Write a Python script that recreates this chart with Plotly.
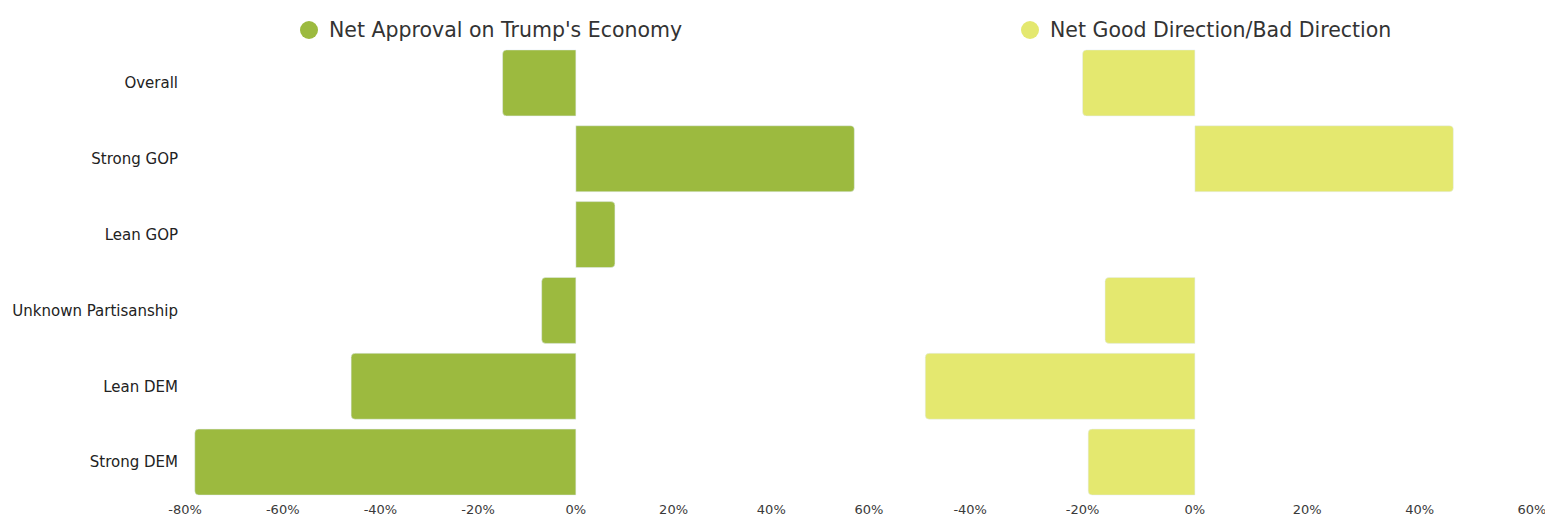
import plotly.graph_objects as go
from plotly.subplots import make_subplots

categories = ["Overall", "Strong GOP", "Lean GOP", "Unknown Partisanship", "Lean DEM", "Strong DEM"]
net_approval_economy = [-15, 57, 8, -7, -46, -78]
net_good_direction = [-20, 46, None, -16, -48, -19]
tick_vals_left = [-80, -60, -40, -20, 0, 20, 40, 60]
tick_vals_right = [-40, -20, 0, 20, 40, 60]
series_names = ["Net Approval on Trump's Economy", "Net Good Direction/Bad Direction"]

GREEN = "#9cba3f"
YELLOW = "#e4e86f"
OFF = 8  # page body margin
W, H = 1553 - OFF, 521 - OFF
MT, MB = 45 - OFF, 21


def px(x):
    return (x - OFF) / W


fig = make_subplots(rows=1, cols=2, horizontal_spacing=0.02)

fig.add_trace(go.Bar(y=categories, x=net_approval_economy, orientation="h",
                     marker=dict(color=GREEN, cornerradius=4), name=series_names[0],
                     showlegend=False), row=1, col=1)
fig.add_trace(go.Bar(y=categories, x=net_good_direction, orientation="h",
                     marker=dict(color=YELLOW, cornerradius=4), name=series_names[1],
                     showlegend=False), row=1, col=2)

FONT = "DejaVu Sans"
tickfont = dict(family=FONT, size=13, color="#3a3a3a")
fig.update_xaxes(row=1, col=1, range=[-80, 60], tickvals=tick_vals_left,
                 ticktext=[f"{v}%" for v in tick_vals_left],
                 domain=[px(185), px(869)])
fig.update_xaxes(row=1, col=2, range=[-50, 60], tickvals=tick_vals_right,
                 ticktext=[f"{v}%" for v in tick_vals_right],
                 domain=[px(914), px(1532)])
fig.update_xaxes(showgrid=False, zeroline=False, showline=False, ticks="",
                 tickfont=tickfont, automargin=False, fixedrange=True)
fig.update_yaxes(categoryorder="array", categoryarray=categories[::-1],
                 showgrid=False, zeroline=False, showline=False, ticks="",
                 automargin=False)
fig.update_yaxes(row=1, col=1, tickfont=dict(family=FONT, size=15, color="#222"),
                 ticklabelstandoff=6)
fig.update_yaxes(row=1, col=2, showticklabels=False)

plot_h = H - MT - MB
ly = 1 + (MT - (30 - OFF)) / plot_h
legend_items = [(309, 327, GREEN, series_names[0]), (1030, 1048, YELLOW, series_names[1])]
for cx, tx, col, name in legend_items:
    fig.add_shape(type="circle", xref="paper", yref="paper",
                  xsizemode="pixel", ysizemode="pixel",
                  xanchor=px(cx), yanchor=ly, x0=-9, x1=9, y0=-9, y1=9,
                  fillcolor=col, line=dict(width=0))
    fig.add_annotation(x=px(tx), y=ly, xref="paper", yref="paper",
                       text=name, showarrow=False, xanchor="left", yanchor="middle",
                       font=dict(family=FONT, size=20.5, color="#333"))

fig.update_layout(width=W, height=H, bargap=0.13,
                  margin=dict(l=0, r=0, t=MT, b=MB),
                  plot_bgcolor="white", paper_bgcolor="white",
                  font=dict(family=FONT))

fig.write_html("out.html")
